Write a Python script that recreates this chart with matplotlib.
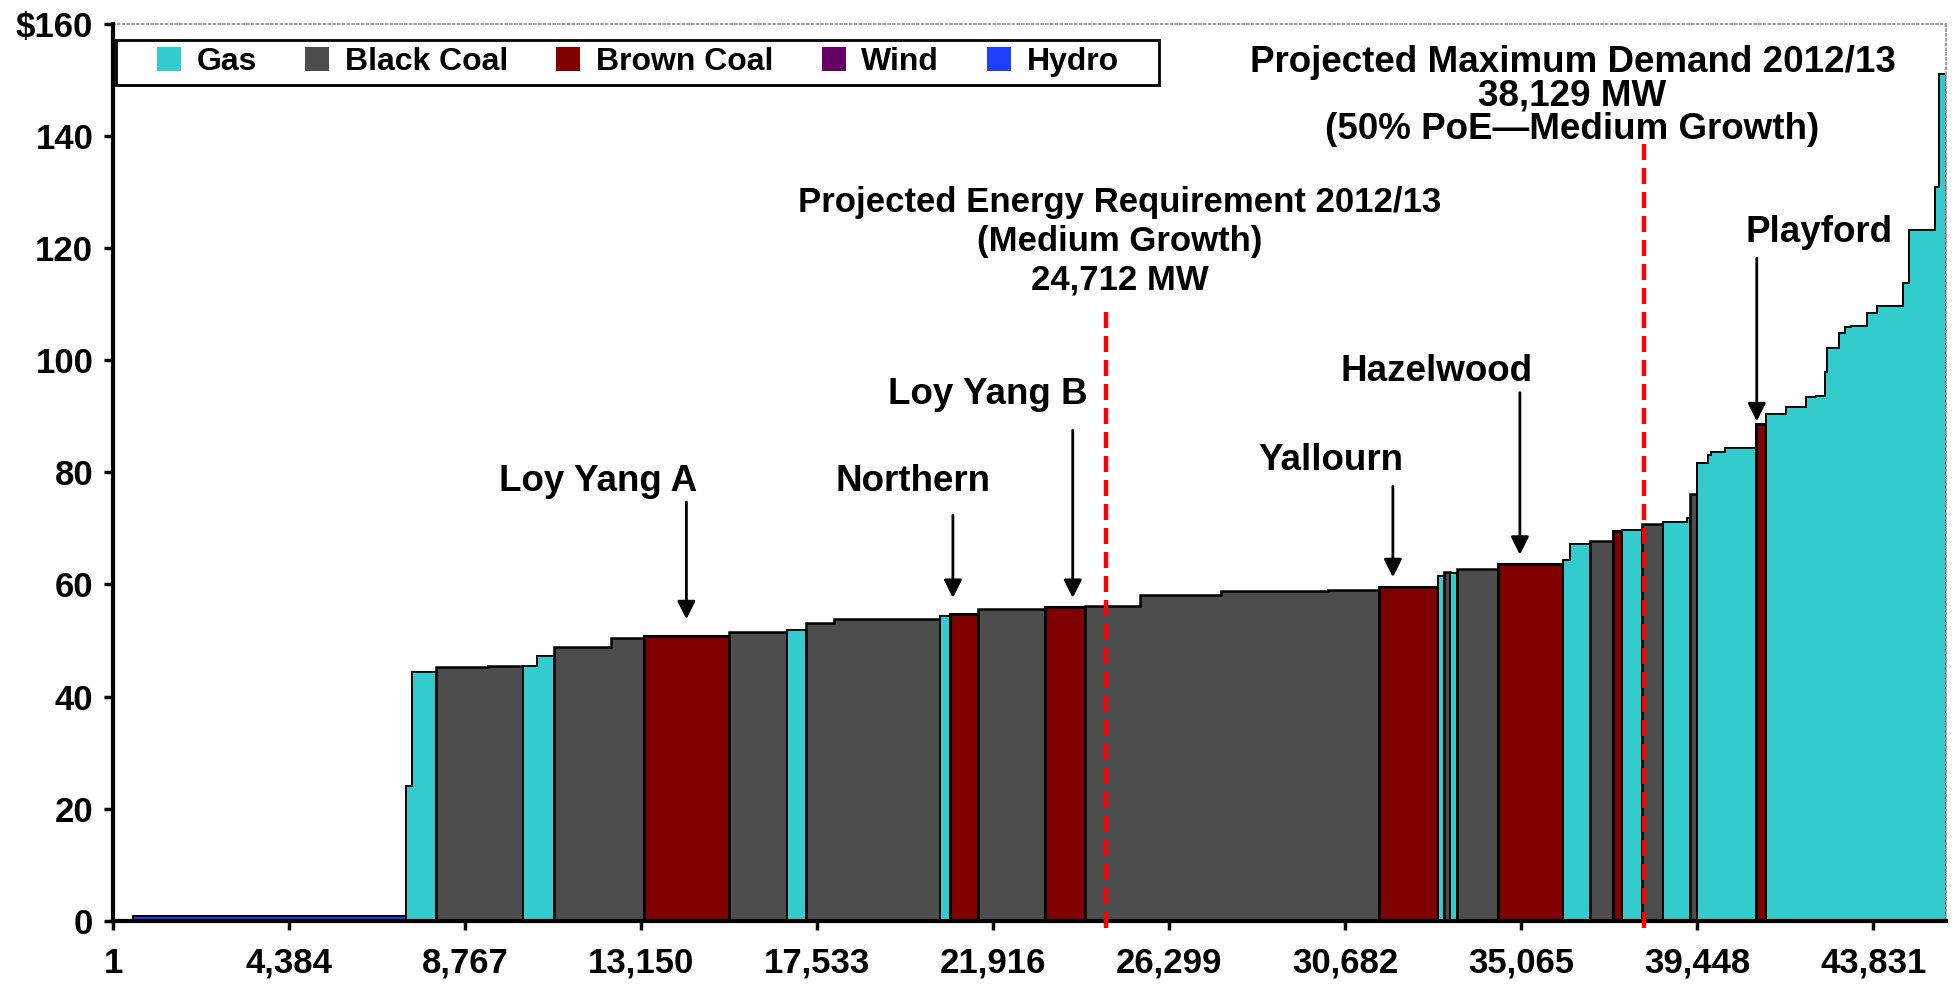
import matplotlib
matplotlib.use("Agg")
import matplotlib.pyplot as plt
from matplotlib.lines import Line2D
from matplotlib.patches import Rectangle

plt.rcParams['font.family'] = ['Liberation Sans', 'DejaVu Sans']
plt.rcParams['font.weight'] = 'bold'

# merit order steps: cumulative capacity (MW) at the end of each step, offer price ($/MWh), fuel
first_mw = 1
step_end_mw = [500, 7290, 7449, 8041, 9330, 10192, 10546, 10977, 12395, 13205,
               15330, 16766, 17245, 17959, 20590, 20834, 21537, 23206, 24207, 25571,
               27574, 30245, 31514, 33000, 33150, 33300, 33460, 34480, 36100, 36280,
               36775, 37348, 37580, 38071, 38605, 39199, 39262, 39450, 39711, 39791,
               40137, 40912, 41161, 41650, 42150, 42400, 42615, 42672, 42979, 43113,
               43278, 43676, 43910, 44573, 44722, 45370, 45470, 45640]
step_price = [0, 0.9, 24.0, 44.4, 45.3, 45.5, 45.4, 47.3, 48.9, 50.5,
              50.9, 51.6, 51.9, 53.1, 53.9, 54.4, 54.8, 55.7, 55.9, 56.2,
              58.2, 58.8, 59.1, 59.6, 61.5, 62.2, 62.0, 62.7, 63.7, 64.4,
              67.2, 67.8, 69.6, 69.7, 70.8, 71.1, 71.9, 76.2, 81.6, 83.1,
              83.6, 84.3, 88.6, 90.4, 91.6, 93.4, 93.6, 97.9, 102.1, 104.9,
              105.9, 106.1, 108.4, 109.7, 113.8, 123.3, 130.8, 151.1]
step_fuel = ['Wind', 'Hydro', 'Gas', 'Gas', 'Black Coal', 'Black Coal', 'Gas', 'Gas', 'Black Coal', 'Black Coal',
             'Brown Coal', 'Black Coal', 'Gas', 'Black Coal', 'Black Coal', 'Gas', 'Brown Coal', 'Black Coal', 'Brown Coal', 'Black Coal',
             'Black Coal', 'Black Coal', 'Black Coal', 'Brown Coal', 'Gas', 'Black Coal', 'Gas', 'Black Coal', 'Brown Coal', 'Gas',
             'Gas', 'Black Coal', 'Brown Coal', 'Gas', 'Black Coal', 'Gas', 'Gas', 'Black Coal', 'Gas', 'Gas',
             'Gas', 'Gas', 'Brown Coal', 'Gas', 'Gas', 'Gas', 'Gas', 'Gas', 'Gas', 'Gas',
             'Gas', 'Gas', 'Gas', 'Gas', 'Gas', 'Gas', 'Gas', 'Gas']

fuel_names = ['Gas', 'Black Coal', 'Brown Coal', 'Wind', 'Hydro']
fuel_colors = {'Gas': '#33CCCC', 'Black Coal': '#4D4D4D', 'Brown Coal': '#800000',
               'Wind': '#660066', 'Hydro': '#1f3fff'}
fuel_lw = {'Gas': 1.4, 'Black Coal': 1.8, 'Brown Coal': 2.2, 'Wind': 1.5, 'Hydro': 1.4}

energy_req_mw = 24712
max_demand_mw = 38129

x_ticks = list(range(1, 45000, 4383))
y_ticks = list(range(0, 161, 20))

# plant name, label position (MW, $), arrow x (MW), arrow top, arrow tip
plants = [
    ('Loy Yang A', 12075, 78.4, 14272, 74.7, 53.8),
    ('Northern', 19913, 78.4, 20909, 72.4, 57.6),
    ('Loy Yang B', 21781, 93.9, 23893, 87.5, 57.6),
    ('Yallourn', 30314, 82.2, 31866, 77.5, 61.3),
    ('Hazelwood', 32951, 98.0, 35029, 94.2, 65.3),
    ('Playford', 42472, 122.8, 40928, 118.2, 89.1),
]


def merge_blocks(start, ends, prices, fuels):
    blocks = []
    x0 = start
    for end, p, f in zip(ends, prices, fuels):
        if blocks and blocks[-1][0] == f:
            blocks[-1][1].append((x0, end, p))
        else:
            blocks.append((f, [(x0, end, p)]))
        x0 = end
    return blocks


fig = plt.figure(figsize=(19.54, 9.92), dpi=100)
ax = fig.add_axes([0.058, 0.0716, 0.9379, 0.9045])

for fuel, steps in merge_blocks(first_mw, step_end_mw, step_price, step_fuel):
    xs = [steps[0][0]]
    ys = [0]
    for a, b, p in steps:
        xs += [a, b]
        ys += [p, p]
    xs.append(steps[-1][1])
    ys.append(0)
    ax.fill(xs, ys, facecolor=fuel_colors[fuel], edgecolor='black',
            linewidth=fuel_lw[fuel], joinstyle='miter', zorder=2)

# demand lines
ax.plot([energy_req_mw, energy_req_mw], [-1.3, 110], color='#FF0000', lw=3.2,
        dashes=(3.6, 1.8), clip_on=False, zorder=4)
ax.plot([max_demand_mw, max_demand_mw], [-1.3, 140], color='#FF0000', lw=3.2,
        dashes=(3.6, 1.8), clip_on=False, zorder=4)

ax.text(36338, 156.2, 'Projected Maximum Demand 2012/13\n38,129 MW\n(50% PoE\u2014Medium Growth)',
        ha='center', va='top', fontsize=26.5, fontweight='bold', linespacing=0.95, zorder=5)
ax.text(25070, 131.0, 'Projected Energy Requirement 2012/13\n(Medium Growth)\n24,712 MW',
        ha='center', va='top', fontsize=25, fontweight='bold', linespacing=1.22, zorder=5)

for name, lx, ly, ax_x, a_top, a_tip in plants:
    ax.text(lx, ly, name, ha='center', va='center', fontsize=26.5, fontweight='bold', zorder=5)
    ax.annotate('', xy=(ax_x, a_tip), xytext=(ax_x, a_top),
                arrowprops=dict(arrowstyle='-|>', color='black', lw=2.0,
                                mutation_scale=27, shrinkA=0, shrinkB=0),
                zorder=5)

ax.set_xlim(first_mw, step_end_mw[-1])
ax.set_ylim(0, 160)
ax.set_xticks(x_ticks)
ax.set_xticklabels([f'{v:,}' for v in x_ticks])
ax.set_yticks(y_ticks)
ax.set_yticklabels([('$' if v == 160 else '') + str(v) for v in y_ticks])
ax.tick_params(axis='both', direction='out', length=6.5, width=2.5, labelsize=25)
ax.tick_params(axis='x', pad=12)
ax.tick_params(axis='y', pad=8)
for lab in ax.get_xticklabels() + ax.get_yticklabels():
    lab.set_fontweight('bold')

for side in ['left', 'bottom']:
    ax.spines[side].set_linewidth(3)
    ax.spines[side].set_color('black')
    ax.spines[side].set_zorder(3)
for side in ['top', 'right']:
    ax.spines[side].set_linestyle(':')
    ax.spines[side].set_linewidth(1.3)
    ax.spines[side].set_color('#999999')

# legend box drawn separately so it can carry wide side margins
ax.add_patch(Rectangle((0.0015, 0.9317), 0.5691, 0.0501, transform=ax.transAxes,
                       facecolor='white', edgecolor='black', linewidth=2,
                       clip_on=False, zorder=6))
handles = [Line2D([], [], marker='s', linestyle='none', markersize=17,
                  markerfacecolor=fuel_colors[f], markeredgewidth=0) for f in fuel_names]
leg = ax.legend(handles, fuel_names, loc='center left', bbox_to_anchor=(0.0235, 0.9568),
                ncol=5, frameon=False, prop={'size': 23, 'weight': 'bold'},
                handlelength=0.8, handletextpad=0.45, columnspacing=1.5,
                borderpad=0, borderaxespad=0)
leg.set_zorder(7)

fig.savefig('out.png', dpi=100)
